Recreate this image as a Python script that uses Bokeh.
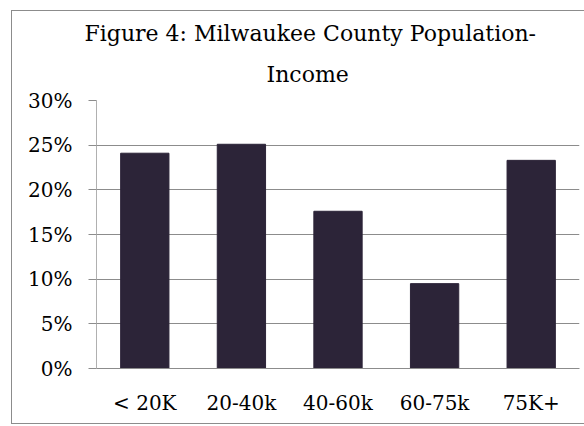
from bokeh.plotting import figure
from bokeh.models import FactorRange, Range1d, NumeralTickFormatter, FixedTicker, Title
from bokeh.embed import file_html
from bokeh.resources import INLINE

categories = ["< 20K", "20-40k", "40-60k", "60-75k", "75K+"]
shares = [0.241, 0.251, 0.176, 0.095, 0.233]
y_ticks = [0.0, 0.05, 0.10, 0.15, 0.20, 0.25, 0.30]
title_lines = ["Figure 4: Milwaukee County Population-", "Income"]

FONT = "DejaVu Serif"
GRID = "#8c8c8c"
BAR = "#2c2438"

p = figure(
    x_range=FactorRange(*categories, range_padding=0),
    y_range=Range1d(0, 0.30),
    width=573, height=414,
    output_backend="svg", toolbar_location=None,
    min_border_left=84, min_border_right=6,
    min_border_top=89, min_border_bottom=57,
)
p.styles = {"margin-left": "11px", "margin-top": "10px",
            "border-left": "1px solid #8c8c8c", "border-top": "1px solid #8c8c8c",
            "border-bottom": "1px solid #8c8c8c"}

p.vbar(x=categories, top=shares, width=0.5, color=BAR)

p.title = None
# (standoff, left offset from frame) for each title line
standoffs = [2, 27]
offsets = [-12, 170]
for line, so, off in reversed(list(zip(title_lines, standoffs, offsets))):
    p.add_layout(Title(text=line, align="left", offset=off, standoff=so,
                       text_font=FONT, text_font_size="22px",
                       text_font_style="normal", text_color="#000000"), "above")

p.outline_line_color = None
p.xgrid.grid_line_color = None
p.ygrid.grid_line_color = GRID
p.ygrid.grid_line_width = 1
p.ygrid.ticker = FixedTicker(ticks=y_ticks)

p.yaxis.ticker = FixedTicker(ticks=y_ticks)
p.yaxis.formatter = NumeralTickFormatter(format="0%")
p.yaxis.axis_line_color = "#b0b0b0"
p.yaxis.major_tick_line_color = GRID
p.yaxis.major_tick_out = 8
p.yaxis.major_tick_in = 0
p.yaxis.minor_tick_line_color = None
p.yaxis.major_label_standoff = 16
p.yaxis.major_label_text_font = FONT
p.yaxis.major_label_text_font_size = "20px"
p.yaxis.major_label_text_color = "#000000"

p.xaxis.axis_line_color = GRID
p.xaxis.major_tick_line_color = None
p.xaxis.minor_tick_line_color = None
p.xaxis.major_label_standoff = 16
p.xaxis.major_label_text_font = FONT
p.xaxis.major_label_text_font_size = "20px"
p.xaxis.major_label_text_color = "#000000"

open("out.html", "w").write(file_html(p, INLINE))
